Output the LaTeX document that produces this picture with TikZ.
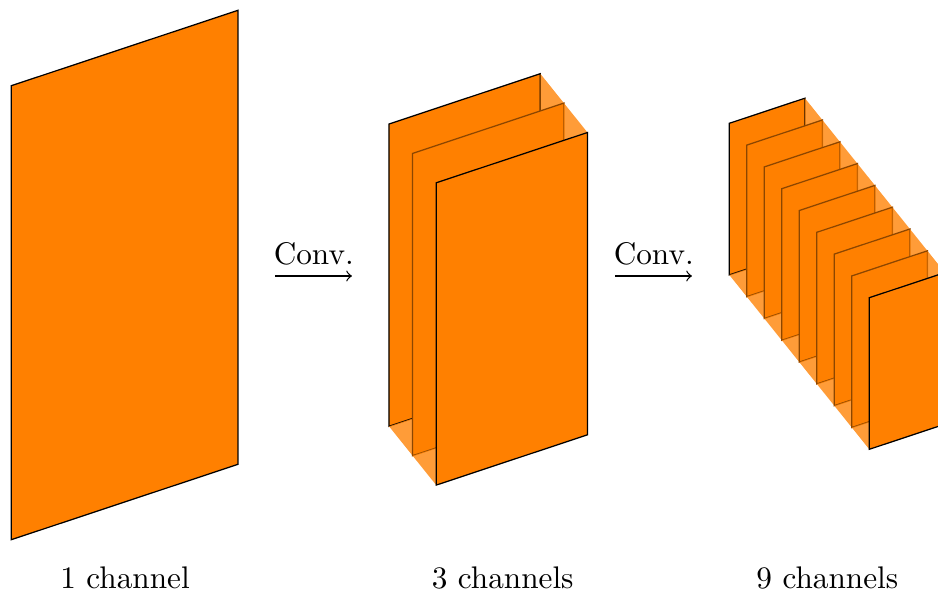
\documentclass[tikz,border=0pt]{standalone}
\begin{document}
\begin{tikzpicture}[x=0.32pt, y=-0.32pt,
  frontface/.style={fill=orange, draw=black},
  innerface/.style={fill=orange, draw=orange!55!black},
  sideface/.style={fill=orange, fill opacity=0.78},
  lbl/.style={anchor=base, inner sep=0pt},
]
% stack of feature maps:
% #1,#2 top-left corner of the rear map, #3 width, #4 height,
% #5 rise of the top edge, #6,#7 offset between maps, #8 number of maps
\newcommand\chanstack[8]{%
  \foreach \k in {1,...,#8} {
    \pgfmathsetmacro\xa{#1+(\k-1)*(#6)}
    \pgfmathsetmacro\ya{#2+(\k-1)*(#7)}
    \pgfmathsetmacro\xb{\xa+#3}
    \ifnum\k=1 \def\facesty{frontface}\else
      \ifnum\k=#8 \def\facesty{frontface}\else\def\facesty{innerface}\fi\fi
    \draw[\facesty] (\xa,\ya) -- (\xb,\ya-#5) -- (\xb,\ya-#5+#4)
      -- (\xa,\ya+#4) -- cycle;
    \ifnum\k<#8
      % right and bottom walls joining this map to the next one
      \fill[sideface] (\xb,\ya-#5) -- (\xb+#6,\ya-#5+#7)
        -- (\xb+#6,\ya-#5+#7+#4) -- (\xb,\ya-#5+#4) -- cycle;
      \fill[sideface] (\xa,\ya+#4) -- (\xb,\ya+#4-#5)
        -- (\xb+#6,\ya+#4-#5+#7) -- (\xa+#6,\ya+#4+#7) -- cycle;
    \fi
  }%
}
\useasboundingbox (0,0) rectangle (938,599);
\clip (0,0) rectangle (938,599);

% input: one channel
\chanstack{11.3}{85.7}{226.7}{454}{75.4}{0}{0}{1}
% after the first convolution: three channels
\chanstack{389}{124}{151.3}{302.3}{50.3}{23.6}{29.4}{3}
% after the second convolution: nine channels
\chanstack{729.3}{123.3}{75.6}{151.6}{25.1}{17.5}{21.8}{9}

% convolution arrows
\coordinate (c1a) at (275.5,276);
\coordinate (c1b) at (352,276);
\coordinate (c2a) at (615.5,276);
\coordinate (c2b) at (692,276);
\draw[->] (c1a) -- node[above] (t1) {Conv.} (c1b);
\draw[->] (c2a) -- node[above] (t2) {Conv.} (c2b);

% captions
\node[lbl] (l1) at (125,588.3) {1 channel};
\node[lbl] (l2) at (502.7,588.3) {3 channels};
\node[lbl] (l3) at (827.3,588.3) {9 channels};
\end{tikzpicture}
\end{document}
